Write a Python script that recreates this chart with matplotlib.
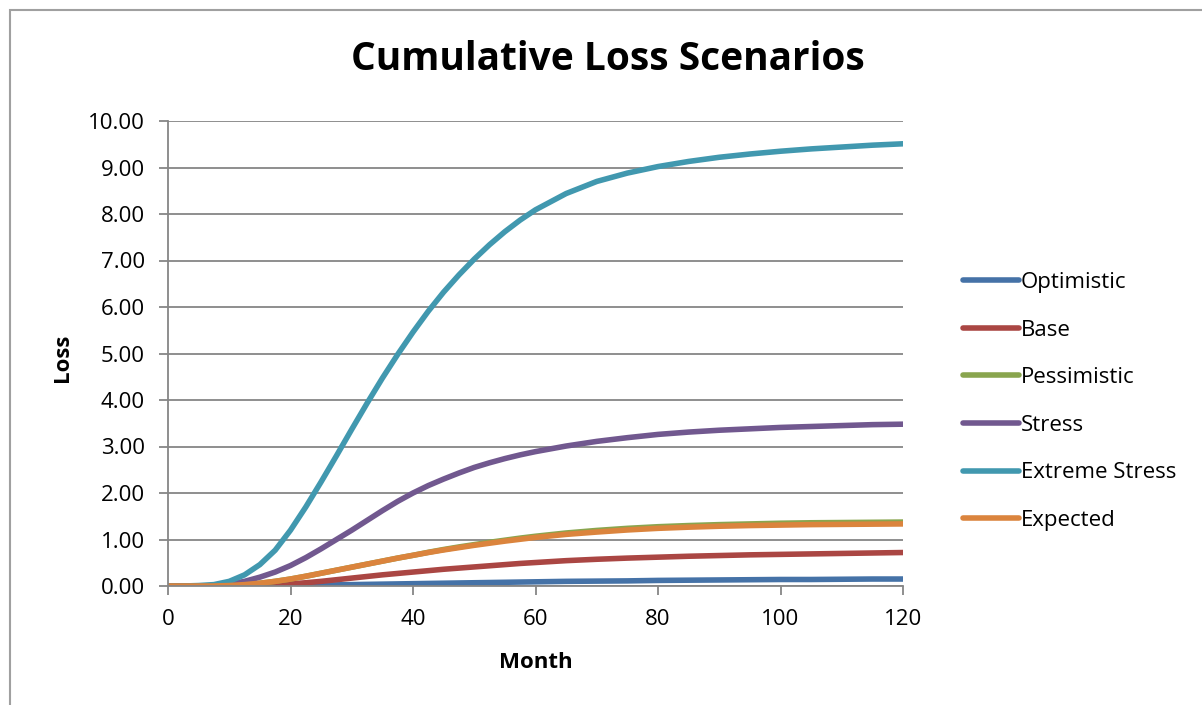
import numpy as np
import matplotlib.pyplot as plt
from matplotlib.patches import Rectangle

# values: every 2.5 months up to 60, then every 5
months = list(np.arange(0, 60.1, 2.5)) + list(range(65, 121, 5))

optimistic = [0, 0, 0, 0, 0, 0, 0, 0.005, 0.01, 0.015, 0.02, 0.025, 0.03, 0.035, 0.04, 0.045, 0.05,
              0.055, 0.06, 0.065, 0.07, 0.075, 0.08, 0.085, 0.09,
              0.10, 0.105, 0.11, 0.12, 0.125, 0.13, 0.135, 0.14, 0.14, 0.145, 0.15, 0.15]
base = [0, 0, 0, 0, 0, 0, 0.01, 0.025, 0.045, 0.07, 0.10, 0.135, 0.17, 0.205, 0.24, 0.27, 0.30,
        0.33, 0.36, 0.385, 0.41, 0.435, 0.46, 0.485, 0.505,
        0.545, 0.575, 0.60, 0.62, 0.64, 0.655, 0.67, 0.68, 0.69, 0.70, 0.71, 0.72]
pessimistic = [0, 0, 0, 0, 0.01, 0.03, 0.06, 0.10, 0.15, 0.21, 0.275, 0.34, 0.405, 0.47, 0.535, 0.60, 0.66,
               0.725, 0.785, 0.84, 0.89, 0.94, 0.985, 1.03, 1.07,
               1.14, 1.195, 1.24, 1.275, 1.30, 1.32, 1.335, 1.35, 1.36, 1.365, 1.37, 1.375]
stress = [0, 0, 0, 0.01, 0.04, 0.10, 0.19, 0.30, 0.44, 0.61, 0.80, 1.00, 1.20, 1.41, 1.62, 1.82, 2.00,
          2.16, 2.30, 2.43, 2.55, 2.65, 2.74, 2.82, 2.89,
          3.01, 3.11, 3.19, 3.26, 3.31, 3.35, 3.38, 3.41, 3.43, 3.45, 3.47, 3.48]
extreme = [0, 0, 0.01, 0.03, 0.10, 0.24, 0.46, 0.77, 1.20, 1.70, 2.24, 2.80, 3.37, 3.93, 4.47, 4.98, 5.46,
           5.91, 6.32, 6.69, 7.03, 7.34, 7.62, 7.87, 8.09,
           8.44, 8.70, 8.88, 9.02, 9.13, 9.22, 9.29, 9.35, 9.40, 9.44, 9.48, 9.51]
expected = [0, 0, 0, 0, 0.01, 0.03, 0.06, 0.10, 0.15, 0.21, 0.275, 0.34, 0.405, 0.47, 0.535, 0.60, 0.66,
            0.72, 0.775, 0.825, 0.875, 0.92, 0.965, 1.005, 1.045,
            1.11, 1.16, 1.205, 1.24, 1.265, 1.285, 1.30, 1.31, 1.32, 1.325, 1.33, 1.335]

names = ["Optimistic", "Base", "Pessimistic", "Stress", "Extreme Stress", "Expected"]
series = [optimistic, base, pessimistic, stress, extreme, expected]
colors = ["#4572A7", "#AA4643", "#89A54E", "#71588F", "#4198AF", "#DB843D"]

plt.rcParams['font.family'] = ['Open Sans', 'DejaVu Sans']
grid_c = "#868686"

fig = plt.figure(figsize=(12.02, 7.05), dpi=100)
ax = fig.add_axes([168 / 1202, 1 - 586 / 705, (903 - 168) / 1202, (586 - 121) / 705])

for y, name, c in zip(series, names, colors):
    ax.plot(months, y, color=c, lw=4.0, label=name, solid_capstyle="round",
            solid_joinstyle="round")

ax.set_xlim(0, 120)
ax.set_ylim(0, 10)
ax.set_xticks(range(0, 121, 20))
ax.set_yticks(range(0, 11))
ax.set_yticklabels([f"{v:.2f}" for v in range(0, 11)])
ax.yaxis.grid(True, color=grid_c, lw=1.3)
ax.set_axisbelow(True)
for s in ["top", "right"]:
    ax.spines[s].set_visible(False)
for s in ["left", "bottom"]:
    ax.spines[s].set_color(grid_c)
    ax.spines[s].set_linewidth(1.3)
ax.tick_params(axis="both", direction="out", length=6.5, width=1.3, color=grid_c,
               labelsize=16, pad=10)

fig.text(536 / 1202, 1 - 662 / 705, "Month", ha="center", va="center",
         fontsize=16, fontweight="bold")
fig.text(62 / 1202, 1 - 358 / 705, "Loss", ha="center", va="center",
         fontsize=16, fontweight="bold", rotation=90)
fig.text(608 / 1202, 1 - 60 / 705, "Cumulative Loss Scenarios", ha="center",
         va="center", fontsize=28, fontweight="bold")

fig.legend(loc="center left", bbox_to_anchor=(963 / 1202, 1 - 401.5 / 705),
           frameon=False, fontsize=16, handlelength=2.5, handletextpad=0.1,
           labelspacing=1.2, borderpad=0, borderaxespad=0)

# chart area border (cut at right and bottom)
fig.patches.append(Rectangle((10 / 1202, -0.1), 1.2, 1.1 - 10 / 705, fill=False,
                             edgecolor="#A0A0A0", lw=1.5, transform=fig.transFigure))

fig.savefig("out.png", dpi=100)
